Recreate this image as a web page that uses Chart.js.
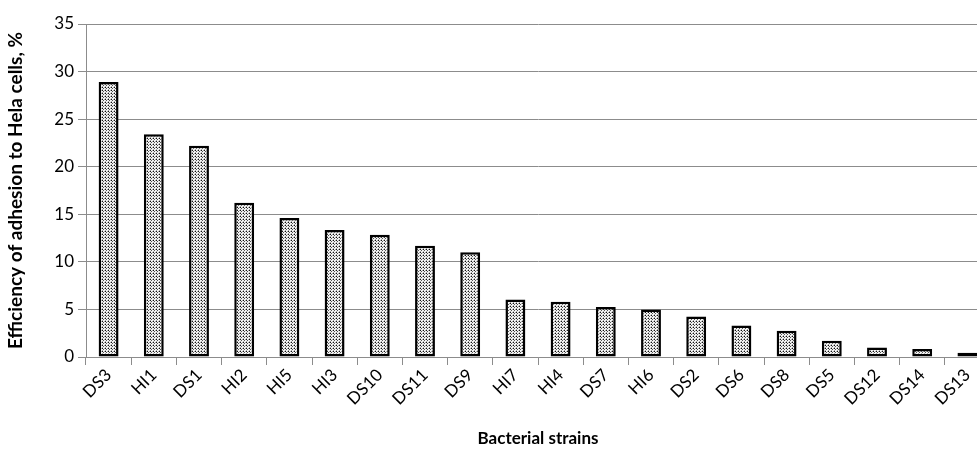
<!DOCTYPE html>
<html>
<head>
<meta charset="utf-8">
<script src="https://cdn.jsdelivr.net/npm/chart.js@4.4.1/dist/chart.umd.min.js"></script>
<style>
  html, body { margin: 0; padding: 0; background: #fff; overflow: hidden; }
  #wrap { width: 977px; height: 457px; overflow: hidden; }
</style>
</head>
<body>
<div id="wrap"><canvas id="c" width="990" height="457"></canvas></div>
<script>
// 菌株和粘附效率
const strains = ['DS3', 'HI1', 'DS1', 'HI2', 'HI5', 'HI3', 'DS10', 'DS11', 'DS9', 'HI7',
                 'HI4', 'DS7', 'HI6', 'DS2', 'DS6', 'DS8', 'DS5', 'DS12', 'DS14', 'DS13'];
const adhesion = [28.9, 23.4, 22.2, 16.2, 14.6, 13.35, 12.85, 11.7, 11.0, 6.05,
                  5.8, 5.25, 5.0, 4.25, 3.3, 2.75, 1.7, 1.0, 0.85, 0.45];
const yTicks = [0, 5, 10, 15, 20, 25, 30, 35];

const FONT = 'Lato, "Open Sans", sans-serif';

// 点状填充
function dotPattern() {
    const t = document.createElement('canvas');
    t.width = 3; t.height = 3;
    const g = t.getContext('2d');
    g.fillStyle = '#f4f4f4';
    g.fillRect(0, 0, 3, 3);
    g.fillStyle = '#111111';
    g.fillRect(0, 0, 1, 1);
    g.fillStyle = '#555555';
    g.fillRect(1, 1, 1, 1);
    g.fillStyle = '#aaaaaa';
    g.fillRect(2, 0, 1, 1);
    g.fillRect(0, 2, 1, 1);
    return document.getElementById('c').getContext('2d').createPattern(t, 'repeat');
}

new Chart(document.getElementById('c'), {
    type: 'bar',
    data: {
        labels: strains,
        datasets: [{
            data: adhesion,
            backgroundColor: dotPattern(),
            borderColor: '#000000',
            borderWidth: 2.5,
            borderSkipped: false,
            barPercentage: 0.44,
            categoryPercentage: 1.0
        }]
    },
    options: {
        responsive: false,
        devicePixelRatio: 1,
        animation: false,
        layout: { padding: { top: 24, left: 0, right: 0, bottom: 4 } },
        plugins: { legend: { display: false }, tooltip: { enabled: false } },
        scales: {
            x: {
                offset: true,
                grid: { offset: true, drawOnChartArea: false, color: '#8c8c8c', tickLength: 8 },
                border: { color: '#8c8c8c', width: 1 },
                ticks: { color: '#000', font: { family: FONT, size: 17 }, maxRotation: 45, minRotation: 45, padding: 0 },
                title: { display: true, text: 'Bacterial strains', color: '#000', font: { family: FONT, size: 17, weight: 'bold' }, padding: { top: 12 } },
                afterFit: s => { s.height = 96; }
            },
            y: {
                min: 0,
                max: 35,
                afterBuildTicks: s => { s.ticks = yTicks.map(v => ({ value: v })); },
                grid: { color: '#8c8c8c', tickLength: 8 },
                border: { color: '#8c8c8c', width: 1 },
                ticks: { color: '#000', font: { family: FONT, size: 17 }, padding: 4 },
                title: { display: true, text: 'Efficiency of adhesion to Hela cells, %', color: '#000', font: { family: FONT, size: 19, weight: 'bold' }, padding: { bottom: 3 } },
                afterFit: s => { s.width = 86; }
            }
        }
    }
});
</script>
</body>
</html>
